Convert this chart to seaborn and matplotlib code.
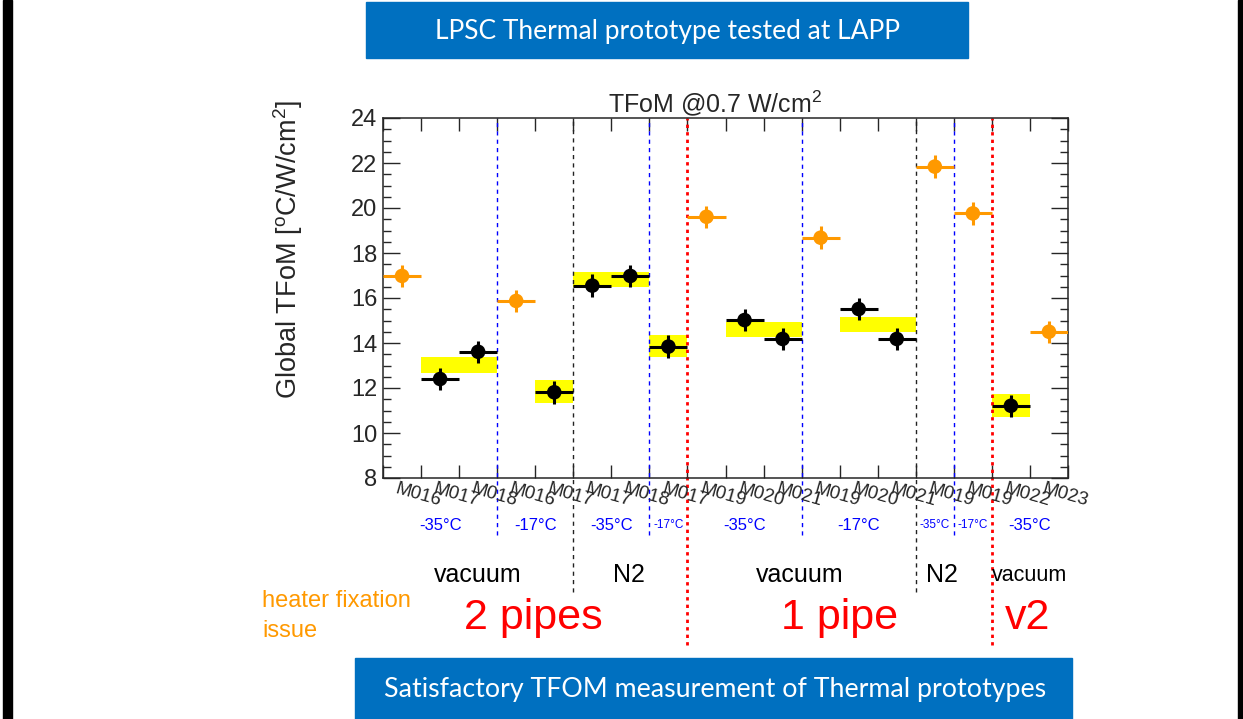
import numpy as np
import pandas as pd
import seaborn as sns
import matplotlib.pyplot as plt
from matplotlib.patches import Rectangle

# modules on the x axis, one bin each
modules = ["M016", "M017", "M018", "M016", "M017", "M017", "M018", "M017", "M019",
           "M020", "M021", "M019", "M020", "M021", "M019", "M019", "M022", "M023"]

# heater fixation issue (orange)
orange_bin = [0, 3, 8, 11, 14, 15, 17]
orange_tfom = [16.98, 15.87, 19.61, 18.68, 21.84, 19.76, 14.50]
orange_err = [0.5, 0.5, 0.5, 0.5, 0.5, 0.5, 0.5]

# good measurements (black)
black_bin = [1, 2, 4, 5, 6, 7, 9, 10, 12, 13, 16]
black_tfom = [12.40, 13.61, 11.81, 16.55, 16.98, 13.84, 15.02, 14.18, 15.51, 14.18, 11.21]
black_err = [0.5, 0.5, 0.5, 0.5, 0.5, 0.5, 0.5, 0.5, 0.5, 0.5, 0.5]

# yellow bands: first bin, number of bins, low, high
band_start = [1, 4, 5, 7, 9, 12, 16]
band_nbins = [2, 1, 2, 1, 2, 2, 1]
band_low = [12.65, 11.35, 16.47, 13.36, 14.25, 14.50, 10.72]
band_high = [13.36, 12.36, 17.17, 14.34, 14.95, 15.17, 11.73]

# separators
temp_edges = [3, 7, 11, 15]
gas_edges = [5, 14]
pipe_edges = [8, 16]

temp_pos = [1.5, 4, 6, 7.5, 9.5, 12.5, 14.5, 15.5, 17]
temp_text = ["-35°C", "-17°C", "-35°C", "-17°C", "-35°C", "-17°C", "-35°C", "-17°C", "-35°C"]
temp_small = [False, False, False, True, False, False, True, True, False]

env_pos = [2.5, 6.45, 10.95, 14.7, 17.0]
env_text = ["vacuum", "N2", "vacuum", "N2", "vacuum"]
env_size = [18, 18, 18, 18, 15.5]

pipe_pos = [3.95, 12.0, 16.95]
pipe_text = ["2 pipes", "1 pipe", "v2"]

orange = "#FF9900"
blue = "#0070C0"

sns.set_style("ticks")
plt.rcParams['font.family'] = ['Liberation Sans', 'DejaVu Sans']
plt.rcParams['mathtext.fontset'] = 'custom'
plt.rcParams['mathtext.rm'] = 'Liberation Sans'
plt.rcParams['mathtext.it'] = 'Liberation Sans:italic'

fig = plt.figure(figsize=(12.43, 7.19), dpi=100)
ax = fig.add_axes([383 / 1243, 1 - 478 / 719, 685 / 1243, 360 / 719])

df_o = pd.DataFrame({"x": np.array(orange_bin) + 0.5, "y": orange_tfom, "e": orange_err})
df_b = pd.DataFrame({"x": np.array(black_bin) + 0.5, "y": black_tfom, "e": black_err})

ax.bar(band_start, np.array(band_high) - np.array(band_low), width=band_nbins,
       bottom=band_low, align='edge', color="#FFFF00", linewidth=0, zorder=1)

ax.errorbar(df_o.x, df_o.y, xerr=0.5, yerr=df_o.e, fmt='none', ecolor=orange,
            elinewidth=2.2, capsize=0, zorder=3)
ax.errorbar(df_b.x, df_b.y, xerr=0.5, yerr=df_b.e, fmt='none', ecolor='black',
            elinewidth=2.2, capsize=0, zorder=3)
sns.scatterplot(data=df_o, x="x", y="y", ax=ax, color=orange, s=110, edgecolor='none', zorder=4)
sns.scatterplot(data=df_b, x="x", y="y", ax=ax, color='black', s=110, edgecolor='none', zorder=4)

for e in temp_edges:
    ax.axvline(e, ymin=-0.158, ymax=1, color='blue', lw=1, ls=(0, (3, 3)), clip_on=False, zorder=2)
for e in gas_edges:
    ax.axvline(e, ymin=-0.317, ymax=1, color='#222222', lw=1, ls=(0, (3, 3)), clip_on=False, zorder=2)
for e in pipe_edges:
    ax.axvline(e, ymin=-0.464, ymax=1, color='red', lw=2, ls=(0, (1.2, 1.5)), clip_on=False, zorder=2)

ax.set_xlim(0, len(modules))
ax.set_ylim(8, 24)
ax.set_xlabel("")
ax.set_ylabel("")
ax.set_xticks(np.arange(0, len(modules) + 1))
ax.set_xticklabels([])
ax.set_yticks(np.arange(8, 25, 2))
ax.set_yticks(np.arange(8, 24.01, 0.5), minor=True)
ax.tick_params(axis='y', which='major', direction='in', length=12, width=1, right=True,
               labelsize=17, pad=4)
ax.tick_params(axis='y', which='minor', direction='in', length=6, width=1, right=True)
ax.tick_params(axis='x', which='major', direction='in', length=9.5, width=1, top=True)
for s in ax.spines.values():
    s.set_linewidth(1.1)

xt = ax.get_xaxis_transform()
for i, m in enumerate(modules):
    ax.text(i + 0.4, -0.008, m, transform=xt, rotation=-16, rotation_mode='anchor',
            ha='left', va='top', fontsize=13.5)

for p, t, sm in zip(temp_pos, temp_text, temp_small):
    ax.text(p, -0.131, t, transform=xt, ha='center', va='center', color='blue',
            fontsize=8.5 if sm else 12)
for p, t, fs in zip(env_pos, env_text, env_size):
    ax.text(p, -0.27, t, transform=xt, ha='center', va='center', color='black', fontsize=fs)
for p, t in zip(pipe_pos, pipe_text):
    ax.text(p, -0.39, t, transform=xt, ha='center', va='center', color='red', fontsize=31)

fig.text(715 / 1243, 1 - 112 / 719, "TFoM @0.7 W/cm$^{2}$", ha='center', va='baseline', fontsize=18)
fig.text(288 / 1243, 1 - 100 / 719, "Global TFoM [$^{\\mathrm{o}}$C/W/cm$^{2}$]", rotation=90,
         ha='center', va='top', fontsize=19.5)
fig.text(262 / 1243, 1 - 616 / 719, "heater fixation\nissue", ha='left', va='center',
         color=orange, fontsize=17, linespacing=1.5)

# slide banners and borders
fig.patches.append(Rectangle((366 / 1243, 1 - 58 / 719), 602 / 1243, 56 / 719,
                             transform=fig.transFigure, color=blue, zorder=0))
fig.patches.append(Rectangle((355 / 1243, 0), 717 / 1243, 61 / 719,
                             transform=fig.transFigure, color=blue, zorder=0))
fig.patches.append(Rectangle((3 / 1243, 0), 9 / 1243, 1, transform=fig.transFigure,
                             color='black', zorder=0))
fig.patches.append(Rectangle((1238 / 1243, 0), 5 / 1243, 1, transform=fig.transFigure,
                             color='black', zorder=0))
fig.text(668 / 1243, 1 - 31 / 719, "LPSC Thermal prototype tested at LAPP", ha='center',
         va='center', color='white', fontsize=19, family=['Lato', 'DejaVu Sans'])
fig.text(715 / 1243, 1 - 689 / 719, "Satisfactory TFOM measurement of Thermal prototypes",
         ha='center', va='center', color='white', fontsize=19.3, family=['Lato', 'DejaVu Sans'])

plt.savefig("out.png", dpi=100)
plt.close()
